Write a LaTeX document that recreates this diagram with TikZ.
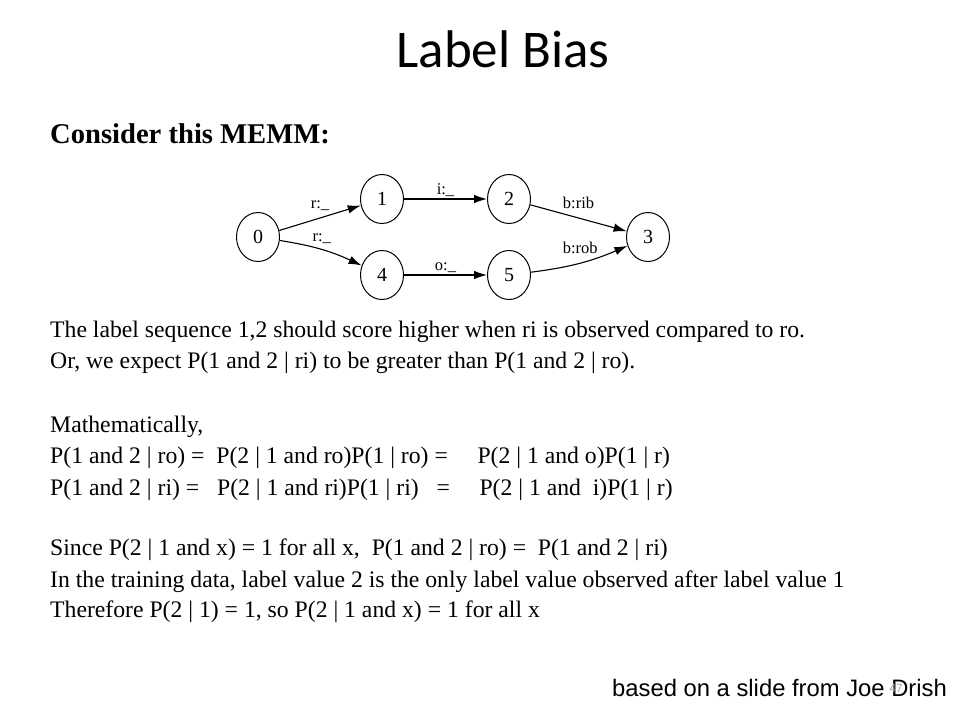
\documentclass[tikz,border=0pt]{standalone}
\usepackage{fontspec}
\setmainfont{Liberation Serif}
\newfontfamily\titlefont{Carlito}
\newfontfamily\footfont{Liberation Sans}
\usepackage{tikz}
\usetikzlibrary{arrows,arrows.meta,positioning}
\usetikzlibrary{shapes.geometric}
\colorlet{pagenum}{black!35}

\begin{document}
\begin{tikzpicture}[x=1pt,y=-1pt]

	\tikzstyle{state}=[ellipse,draw=black,line width=1pt,minimum width=43pt,minimum height=49pt,inner sep=0pt,font=\fontsize{20}{20}\selectfont]
	\tikzstyle{trans}=[line width=1.1pt,-{Latex[length=13pt,width=8.5pt]}]
	\tikzstyle{lbl}=[font=\fontsize{16.5}{16.5}\selectfont,inner sep=1pt]
	\tikzstyle{line}=[anchor=base west,inner sep=0pt,font=\fontsize{23.7}{23.7}\selectfont]

	\useasboundingbox (0,0) rectangle (960,720);

	\node [anchor=base,inner sep=0pt,font=\titlefont\fontsize{53}{53}\selectfont] (title) at (503,67) {Label Bias};
	\node [line,font=\bfseries\fontsize{28.6}{28.6}\selectfont] (memm) at (50,143) {Consider this MEMM:};

	% the MEMM
	\node [state] (0) at (258,237)		{0};
	\node [state] (1) at (382,199)		{1};
	\node [state] (2) [right=83pt of 1]	{2};
	\node [state] (4) [below=26pt of 1]	{4};
	\node [state] (5) [right=83pt of 4]	{5};
	\node [state] (3) at (648,237)		{3};

	\path [trans]	(0)	edge node [lbl,above=6pt] {r:\_} (1)
			edge [bend left=8] node [lbl,above=4pt] {r:\_} (4)
		(1)	edge node [lbl,above=1pt] {i:\_} (2)
		(4)	edge node [lbl,above=1pt] {o:\_} (5)
		(2)	edge node [lbl,above=8pt] {b:rib} (3)
		(5)	edge [bend right=8] node [lbl,above=8pt] {b:rob} (3);

	% text
	\node [line] (l1) at (50,337) {The label sequence 1,2 should score higher when ri is observed compared to ro.};
	\node [line] (l2) at (50,368) {Or, we expect P(1 and 2 | ri) to be greater than P(1 and 2 | ro).};
	\node [line] (l3) at (50,432) {Mathematically,};
	\node [line] (l4) at (50,463) {P(1 and 2 | ro) =\ \ P(2 | 1 and ro)P(1 | ro) =\ \ \ \ \ P(2 | 1 and o)P(1 | r)};
	\node [line] (l5) at (50,495) {P(1 and 2 | ri) =\ \ \ P(2 | 1 and ri)P(1 | ri)\ \ \ =\ \ \ \ \ P(2 | 1 and\ \ i)P(1 | r)};
	\node [line] (l6) at (50,555) {Since P(2 | 1 and x) = 1 for all x,\ \ P(1 and 2 | ro) =\ \ P(1 and 2 | ri)};
	\node [line] (l7) at (50,587) {In the training data, label value 2 is the only label value observed after label value 1};
	\node [line] (l8) at (50,617) {Therefore P(2 | 1) = 1, so P(2 | 1 and x) = 1 for all x};

	\node [anchor=base west,inner sep=0pt,font=\footfont\fontsize{23.8}{23.8}\selectfont] (foot) at (612,696) {based on a slide from Joe Drish};
	\node [anchor=base east,inner sep=0pt,text=pagenum,font=\footfont\fontsize{12}{12}\selectfont] (num) at (903,692) {47};
\end{tikzpicture}
\end{document}
